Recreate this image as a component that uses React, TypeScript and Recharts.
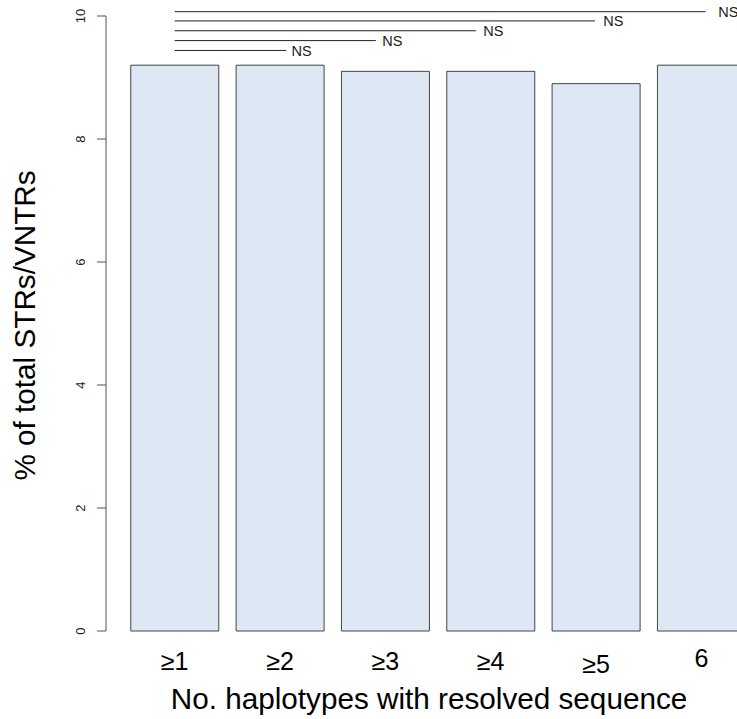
import React from 'react';
import { BarChart, Bar, XAxis, YAxis, ReferenceLine } from 'recharts';

// ---- data ----
const categories = ['≥1', '≥2', '≥3', '≥4', '≥5', '6'];
const percentValues = [9.2, 9.2, 9.1, 9.1, 8.9, 9.2];
const yTicks = [0, 2, 4, 6, 8, 10];
// significance brackets (x in category-band units: band i centre = i + 0.5; y in data units)
const nsLineY = [9.44, 9.6, 9.76, 9.92, 10.07];
const nsLineStart = [0.5, 0.5, 0.5, 0.5, 0.5];
const nsLineEnd = [1.56, 2.41, 3.36, 4.49, 5.54];
const nsLabelX = [1.61, 2.47, 3.43, 4.57, 5.66];
const nsLabels = ['NS', 'NS', 'NS', 'NS', 'NS'];

const xTitle = 'No. haplotypes with resolved sequence';
const yTitle = '% of total STRs/VNTRs';

const data = categories.map((c, i) => ({ category: c, value: percentValues[i] }));

const FONT = '"Liberation Sans", Arial, Helvetica, sans-serif';
const xLabelShift: Record<string, number> = { '≥5': 3, '6': -3 };

function YTick(props: any) {
  const { x, y, payload } = props;
  return (
    <text
      x={x}
      y={y}
      transform={`rotate(-90 ${x} ${y})`}
      textAnchor="middle"
      fontSize={13}
      fill="#222"
      fontFamily={FONT}
    >
      {payload.value}
    </text>
  );
}

function XTick(props: any) {
  const { x, y, payload } = props;
  const shift = xLabelShift[payload.value] || 0;
  return (
    <text x={x} y={y + 39 + shift} textAnchor="middle" fontSize={25} fill="#000" fontFamily={FONT}>
      {payload.value}
    </text>
  );
}

function XTitle(props: any) {
  const vb = props.viewBox || {};
  const cx = vb.x + vb.width / 2 - 9;
  return (
    <text x={cx} y={vb.y + 78} textAnchor="middle" fontSize={29.7} fill="#000" fontFamily={FONT}>
      {xTitle}
    </text>
  );
}

function YTitle(props: any) {
  const vb = props.viewBox || {};
  const cy = vb.y + vb.height / 2 + 2;
  const x = 35;
  return (
    <text
      x={x}
      y={cy}
      transform={`rotate(-90 ${x} ${cy})`}
      textAnchor="middle"
      fontSize={29.7}
      fill="#000"
      fontFamily={FONT}
    >
      {yTitle}
    </text>
  );
}

// The segment spans the first to the last category centre; positions in band units
// are mapped through those scaled end points.
function makeBracket(i: number) {
  return (props: any) => {
    const { x1, x2, y1 } = props;
    if (x1 == null || x2 == null || y1 == null) return null;
    const unit = (x2 - x1) / (categories.length - 1);
    const px = (u: number) => x1 + (u - 0.5) * unit;
    return (
      <g>
        <line
          x1={px(nsLineStart[i])}
          x2={px(nsLineEnd[i])}
          y1={y1}
          y2={y1}
          stroke="#222"
          strokeWidth={1}
        />
        <text
          x={px(nsLabelX[i])}
          y={y1 + 5.3}
          fontSize={14.5}
          fill="#1a1a1a"
          fontFamily={FONT}
        >
          {nsLabels[i]}
        </text>
      </g>
    );
  };
}

export default function App() {
  return (
    <div
      style={{
        position: 'absolute',
        left: 0,
        top: 0,
        width: 737,
        height: 719,
        overflow: 'hidden',
        background: '#fff',
      }}
    >
      <BarChart
        width={770}
        height={719}
        data={data}
        margin={{ top: 16, right: 0, left: 0, bottom: 0 }}
        barCategoryGap="8.33%"
      >
        <XAxis
          dataKey="category"
          type="category"
          height={88}
          axisLine={false}
          tickLine={false}
          tickSize={0}
          tickMargin={0}
          padding={{ left: 16, right: 16 }}
          tick={<XTick />}
          interval={0}
          label={XTitle}
        />
        <YAxis
          width={106}
          domain={[0, 10]}
          ticks={yTicks}
          interval={0}
          axisLine={{ stroke: '#555', strokeWidth: 1 }}
          tickLine={{ stroke: '#555', strokeWidth: 1 }}
          tickSize={9}
          tickMargin={12}
          tick={<YTick />}
          label={YTitle}
        />
        <Bar
          dataKey="value"
          fill="#dee8f4"
          stroke="#454545"
          strokeWidth={1}
          isAnimationActive={false}
        />
        {nsLineY.map((yv, i) => (
          <ReferenceLine
            key={`l${i}`}
            ifOverflow="visible"
            segment={[
              { x: categories[0], y: yv },
              { x: categories[categories.length - 1], y: yv },
            ]}
            stroke="#222"
            shape={makeBracket(i)}
          />
        ))}
      </BarChart>
    </div>
  );
}
